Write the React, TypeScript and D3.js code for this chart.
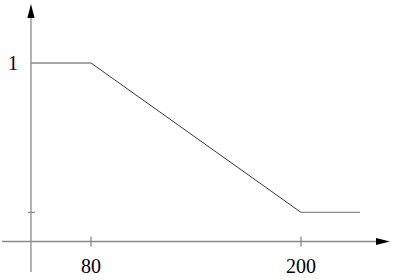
import React from "react";
import * as d3 from "d3";

const xPoints = [45.7, 80, 200, 233.7];
const yPoints = [1, 1, 0.163, 0.163];
const xTicks = [80, 200];
const xTickLabels = ["80", "200"];
const yTicks = [0.163];
const yLabelValues = [1];
const yLabelTexts = ["1"];

const W = 394;
const H = 280;

export default function App() {
  const x = d3.scaleLinear().domain([80, 200]).range([91, 301]);
  const y = d3.scaleLinear().domain([0, 1]).range([241.5, 63]);
  const x0 = x(xPoints[0]);
  const y0 = y(0);
  const pts: [number, number][] = xPoints.map((v, i) => [x(v), y(yPoints[i])]);
  const line = d3.line();
  const axisColor = "#8a8a8a";
  const font = "'Liberation Serif', 'Times New Roman', serif";
  return (
    <svg width={W} height={H} style={{ position: "absolute", left: 0, top: 0, background: "#fff" }}>
      {/* y axis */}
      <line x1={x0} x2={x0} y1={272} y2={14} stroke={axisColor} strokeWidth={1.3} />
      <path d={`M${x0},4 L${x0 - 3.6},18 L${x0 + 3.6},18 Z`} fill="#000" />
      {/* x axis */}
      <line x1={2} x2={380} y1={y0} y2={y0} stroke={axisColor} strokeWidth={1.3} />
      <path d={`M390,${y0} L376,${y0 - 3.6} L376,${y0 + 3.6} Z`} fill="#000" />
      {/* x ticks */}
      {xTicks.map((t, i) => (
        <g key={t}>
          <line x1={x(t)} x2={x(t)} y1={y0 - 5} y2={y0 + 5} stroke={axisColor} strokeWidth={1.3} />
          <text x={x(t)} y={273} textAnchor="middle" fontFamily={font} fontSize={20} fill="#000">
            {xTickLabels[i]}
          </text>
        </g>
      ))}
      {/* y ticks */}
      {yTicks.map((t) => (
        <line key={t} x1={x0 - 3} x2={x0 + 4} y1={y(t)} y2={y(t)} stroke={axisColor} strokeWidth={1.3} />
      ))}
      {yLabelValues.map((v, i) => (
        <text key={v} x={13} y={y(v) + 7} textAnchor="middle" fontFamily={font} fontSize={20} fill="#000">
          {yLabelTexts[i]}
        </text>
      ))}
      {/* flat segments */}
      <line x1={pts[0][0]} x2={pts[1][0]} y1={pts[0][1]} y2={pts[1][1]} stroke={axisColor} strokeWidth={1.3} />
      <line x1={pts[2][0]} x2={pts[3][0]} y1={pts[2][1]} y2={pts[3][1]} stroke={axisColor} strokeWidth={1.3} />
      {/* slope */}
      <path d={line([pts[1], pts[2]]) || ""} fill="none" stroke="#222" strokeWidth={0.9} />
    </svg>
  );
}
